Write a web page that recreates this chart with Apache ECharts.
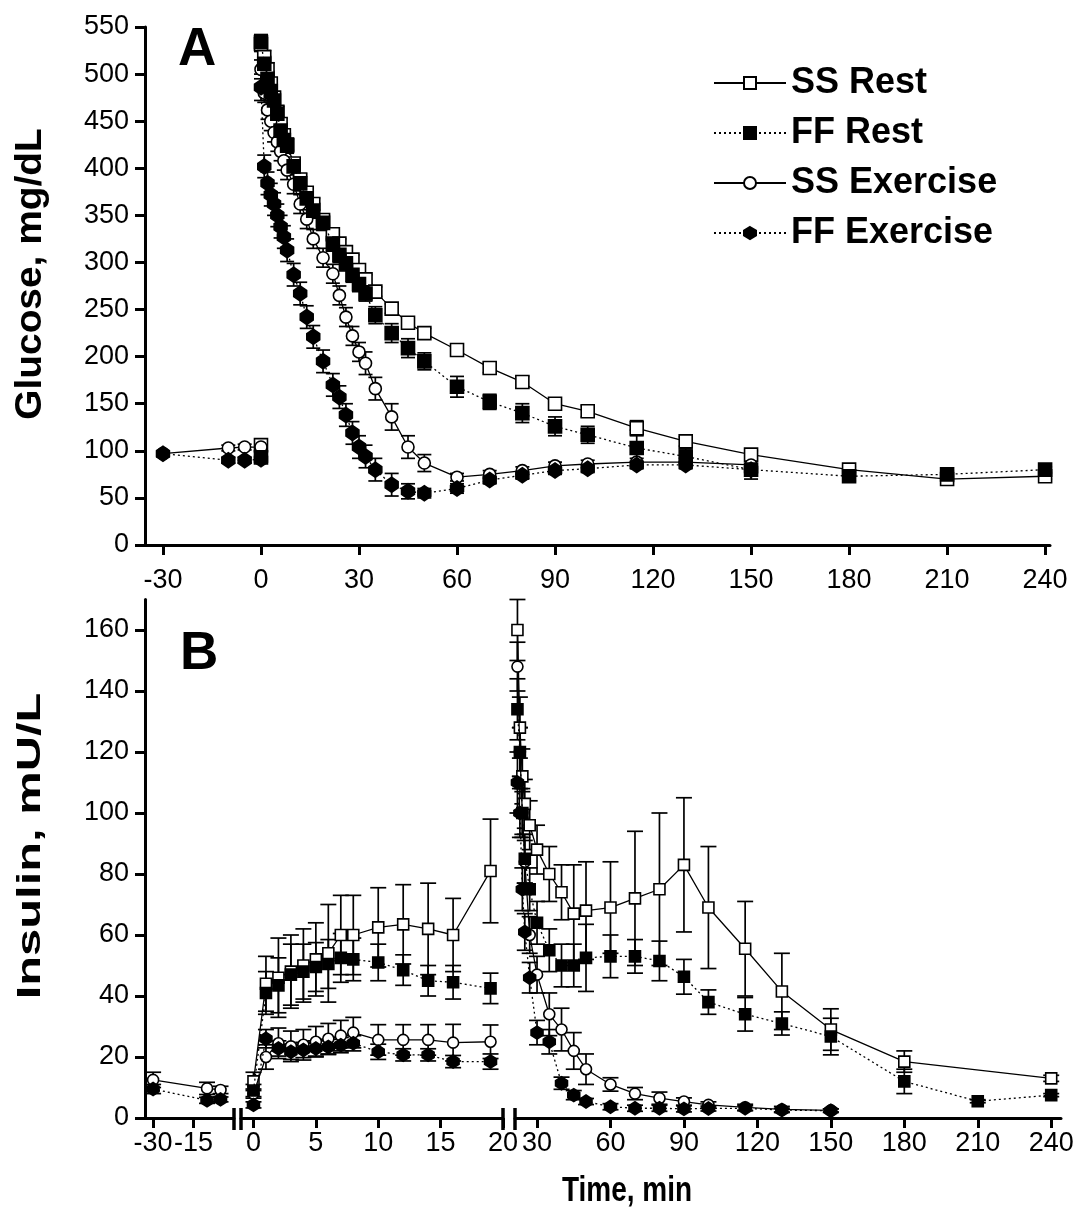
<!DOCTYPE html>
<html>
<head>
<meta charset="utf-8">
<script src="https://cdn.jsdelivr.net/npm/echarts@6/dist/echarts.min.js"></script>
<style>
  html, body { margin: 0; padding: 0; background: #fff; }
  #chart { width: 1078px; height: 1224px; }
</style>
</head>
<body>
<div id="chart"></div>
<script>
// ---------- Panel A: plasma glucose (mg/dL) ----------
const gBaseTimes   = [-30, -10, -5, 0];
const gBaseSSRest  = [null, null, null, 106];
const gBaseFFRest  = [null, null, null, 93];
const gBaseSSEx    = [97, 103, 104, 104];
const gBaseFFEx    = [97, 90, 90, 91];
const gBaseErr     = [3, 3, 3, 4];

const gTimes    = [0, 1, 2, 3, 4, 5, 6, 7, 8, 10, 12, 14, 16, 19, 22, 24, 26, 28, 30, 32, 35, 40, 45, 50, 60, 70, 80, 90, 100, 115, 130, 150, 180, 210, 240];
const gSSRest   = [532, 518, 505, 490, 475, 460, 447, 435, 425, 405, 388, 374, 362, 345, 330, 320, 311, 303, 292, 282, 269, 251, 236, 225, 207, 188, 173, 150, 142, 124, 110, 96, 80, 70, 73];
const gSSRestE  = [8, 7, 7, 6, 6, 6, 6, 6, 6, 6, 6, 6, 6, 6, 5, 5, 5, 5, 5, 5, 5, 5, 5, 5, 5, 5, 6, 5, 6, 8, 5, 4, 3, 3, 3];
const gFFRest   = [534, 511, 495, 482, 472, 458, 440, 430, 424, 402, 384, 368, 355, 342, 320, 308, 299, 287, 277, 267, 244, 225, 209, 195, 168, 152, 140, 126, 117, 103, 94, 80, 73, 75, 80];
const gFFRestE  = [8, 8, 8, 8, 8, 8, 8, 8, 8, 8, 8, 8, 8, 8, 8, 8, 8, 8, 8, 8, 9, 10, 10, 9, 11, 8, 10, 10, 9, 19, 8, 10, 5, 4, 3];
const gSSEx     = [505, 480, 462, 450, 438, 428, 418, 408, 398, 383, 362, 346, 325, 305, 288, 265, 242, 222, 205, 193, 166, 136, 104, 87, 72, 75, 79, 84, 86, 88, 88, 85, null, null, null];
const gSSExE    = [10, 10, 10, 10, 10, 10, 10, 10, 10, 10, 10, 10, 10, 10, 10, 10, 10, 10, 10, 12, 12, 14, 12, 9, 4, 4, 4, 4, 4, 4, 4, 4, null, null, null];
const gFFEx     = [486, 402, 384, 372, 362, 350, 338, 327, 313, 287, 267, 242, 221, 195, 170, 157, 138, 119, 104, 94, 80, 64, 57, 55, 60, 69, 74, 79, 81, 85, 85, 80, null, null, null];
const gFFExE    = [14, 12, 12, 12, 12, 12, 12, 12, 12, 12, 12, 12, 12, 12, 12, 12, 12, 12, 12, 12, 12, 12, 8, 5, 5, 4, 4, 4, 4, 4, 4, 4, null, null, null];

// ---------- Panel B: plasma insulin (mU/L) ----------
const iBaseTimes  = [-30, -10, -5];
const iBaseSSEx   = [12.5, 9.7, 9.2];
const iBaseSSExE  = [2.5, 2, 1.2];
const iBaseFFEx   = [9.5, 5.8, 6.1];
const iBaseFFExE  = [1.5, 1, 0.8];

const iEarlyTimes   = [0, 1, 2, 3, 4, 5, 6, 7, 8, 10, 12, 14, 16, 19];
const iEarlySSRest  = [12, 44, 46, 48, 50, 52, 54, 60, 60, 62.5, 63.5, 62, 60, 81];
const iEarlySSRestE = [3, 9, 13, 12, 12, 12, 16, 13, 13, 13, 13, 15, 12, 17];
const iEarlyFFRest  = [9, 41, 43.5, 47, 48, 49.5, 50.5, 52.5, 52, 51, 48.5, 45, 44.5, 42.5];
const iEarlyFFRestE = [2, 7, 9, 10, 9, 8, 8, 8, 7, 6, 5, 5, 5.5, 5];
const iEarlySSEx    = [8, 20, 24.5, 23.5, 24, 25, 26, 27, 28, 25.6, 25.6, 25.6, 24.7, 25];
const iEarlySSExE   = [1.5, 4, 5, 5, 5, 5, 5, 5, 5, 5, 5, 5, 6, 5.5];
const iEarlyFFEx    = [4.3, 26, 22.8, 21.7, 22.3, 22.8, 23.3, 23.9, 24.5, 21.7, 20.7, 20.7, 18.5, 18.5];
const iEarlyFFExE   = [1, 3, 2.5, 2.5, 2.5, 2.5, 2.5, 2.5, 2.5, 2.5, 2, 2, 2, 2.5];

const iLateTimes   = [22, 23, 24, 25, 27, 30, 35, 40, 45, 50, 60, 70, 80, 90, 100, 115, 130, 150, 180, 210, 240];
const iLateSSRest  = [160, 128, 112, 103, 96, 88, 80, 74, 67, 68, 69, 72, 75, 83, 69, 55.5, 41.5, 29, 18.5, null, 13];
const iLateSSRestE = [10, 10, 9, 8, 8, 8, 9, 9, 16, 16, 15, 22, 25, 22, 20, 15.5, 12.5, 6.8, 3.5, null, 1];
const iLateFFRest  = [134, 120, 100, 85, 75, 64, 55, 50, 50, 52.5, 53, 53, 51.5, 46.3, 38, 34, 31, 26.7, 12, 5.5, 7.5];
const iLateFFRestE = [10, 8, 8, 8, 7, 7, 7, 7, 7, 11, 7, 5.5, 6.5, 5.7, 4, 5.5, 3.8, 6, 4, 0.5, 0.5];
const iLateSSEx    = [148, 120, 100, 84, 60, 47, 34, 29, 22, 16, 11, 8, 6.5, 5.4, 4.3, 3.5, 2.8, 2.5, null, null, null];
const iLateSSExE   = [8, 8, 7, 7, 6, 6, 7, 7, 6, 5, 2.2, 2, 2, 1.2, 1, 1, 1, 0.5, null, null, null];
const iLateFFEx    = [110, 100, 75, 61, 46, 28, 25, 11.4, 7.5, 5.4, 3.7, 3.2, 3.2, 3, 3.1, 3.2, 2.6, 2.4, null, null, null];
const iLateFFExE   = [10, 8, 7, 6, 5, 4, 4, 2, 1.5, 1, 1, 1, 1, 1, 0.8, 0.8, 0.6, 0.6, null, null, null];

// ---------- tick labels ----------
const gTicksX  = [-30, 0, 30, 60, 90, 120, 150, 180, 210, 240];
const iTicksX1 = [-30, -15];
const iTicksX2 = [0, 5, 10, 15, 20];
const iTicksX3 = [30, 60, 90, 120, 150, 180, 210, 240];
const iTicksY  = [0, 20, 40, 60, 80, 100, 120, 140, 160];

const NAMES = ['SS Rest', 'FF Rest', 'SS Exercise', 'FF Exercise'];

// ---------- layout ----------
const FONT = '"Liberation Sans", Arial, Helvetica, sans-serif';
const AX = 145;                     // left edge of both plotting areas
const A_BOX = { top: 27, height: 518, width: 905 };
const B_BOX = { top: 599.5, height: 518.5 };
const B_SEGS = [
  { left: AX, width: 89, min: -33, max: 0, ticks: iTicksX1 },
  { left: 241, width: 262, min: -1, max: 20, ticks: iTicksX2 },
  { left: 515, width: 546, min: 21, max: 244, ticks: iTicksX3 }
];

const STYLES = {
  'SS Rest':     { symbol: 'rect', fill: '#fff', dash: 'solid', sizeA: 13, sizeB: 11 },
  'FF Rest':     { symbol: 'rect', fill: '#000', dash: [2, 3], sizeA: 13, sizeB: 11 },
  'SS Exercise': { symbol: 'circle', fill: '#fff', dash: 'solid', sizeA: 12, sizeB: 11 },
  'FF Exercise': { symbol: 'path://M0,-10L8,-4L8,4L0,10L-8,4L-8,-4Z', fill: '#000', dash: [2, 3], sizeA: [13, 15], sizeB: [12, 13] }
};

function pairs(times, vals, errs) {
  const out = [];
  times.forEach((t, i) => {
    if (vals[i] == null) return;
    out.push([t, vals[i], errs ? (errs[i] || 0) : 0]);
  });
  return out;
}

function makeErrRender(capHalf) {
  return function (params, api) {
    const x = api.value(0), y = api.value(1), e = api.value(2);
    if (!(e > 0)) return null;
    const p1 = api.coord([x, y + e]);
    const p2 = api.coord([x, y - e]);
    const st = { stroke: '#000', lineWidth: 1.7 };
    return {
      type: 'group',
      children: [
        { type: 'line', shape: { x1: p1[0], y1: p1[1], x2: p2[0], y2: p2[1] }, style: st },
        { type: 'line', shape: { x1: p1[0] - capHalf, y1: p1[1], x2: p1[0] + capHalf, y2: p1[1] }, style: st },
        { type: 'line', shape: { x1: p2[0] - capHalf, y1: p2[1], x2: p2[0] + capHalf, y2: p2[1] }, style: st }
      ]
    };
  };
}

const series = [];
function addGroup(name, data, xi, yi, panel, order) {
  const s = STYLES[name];
  series.push({
    type: 'custom', name: name + ' SEM', xAxisIndex: xi, yAxisIndex: yi,
    data: data, renderItem: makeErrRender(panel === 'A' ? 7 : 8), encode: { x: 0, y: 1 },
    silent: true, z: 2, animation: false
  });
  series.push({
    type: 'line', name: name, xAxisIndex: xi, yAxisIndex: yi,
    data: data.map(d => [d[0], d[1]]),
    symbol: s.symbol, symbolSize: panel === 'A' ? s.sizeA : s.sizeB,
    showSymbol: true, showAllSymbol: true,
    lineStyle: { color: '#000', width: 1.3, type: s.dash },
    itemStyle: { color: s.fill, borderColor: '#000', borderWidth: 1.6 },
    emphasis: { disabled: true },
    z: 3 + order, animation: false, silent: true
  });
}

// Panel A
addGroup('SS Rest', pairs(gTimes, gSSRest, gSSRestE), 0, 0, 'A', 0);
addGroup('FF Rest', pairs(gTimes, gFFRest, gFFRestE), 0, 0, 'A', 2);
addGroup('SS Exercise', pairs(gTimes, gSSEx, gSSExE), 0, 0, 'A', 1);
addGroup('FF Exercise', pairs(gTimes, gFFEx, gFFExE), 0, 0, 'A', 3);
addGroup('SS Rest', pairs(gBaseTimes, gBaseSSRest, gBaseErr), 0, 0, 'A', 0);
addGroup('FF Rest', pairs(gBaseTimes, gBaseFFRest, gBaseErr), 0, 0, 'A', 2);
addGroup('SS Exercise', pairs(gBaseTimes, gBaseSSEx, gBaseErr), 0, 0, 'A', 1);
addGroup('FF Exercise', pairs(gBaseTimes, gBaseFFEx, gBaseErr), 0, 0, 'A', 3);

// Panel B, pre-test segment
addGroup('SS Exercise', pairs(iBaseTimes, iBaseSSEx, iBaseSSExE), 1, 1, 'B', 1);
addGroup('FF Exercise', pairs(iBaseTimes, iBaseFFEx, iBaseFFExE), 1, 1, 'B', 3);
// Panel B, 0-20 min
addGroup('SS Rest', pairs(iEarlyTimes, iEarlySSRest, iEarlySSRestE), 2, 2, 'B', 0);
addGroup('FF Rest', pairs(iEarlyTimes, iEarlyFFRest, iEarlyFFRestE), 2, 2, 'B', 2);
addGroup('SS Exercise', pairs(iEarlyTimes, iEarlySSEx, iEarlySSExE), 2, 2, 'B', 1);
addGroup('FF Exercise', pairs(iEarlyTimes, iEarlyFFEx, iEarlyFFExE), 2, 2, 'B', 3);
// Panel B, 20-240 min
addGroup('SS Rest', pairs(iLateTimes, iLateSSRest, iLateSSRestE), 3, 3, 'B', 0);
addGroup('FF Rest', pairs(iLateTimes, iLateFFRest, iLateFFRestE), 3, 3, 'B', 2);
addGroup('SS Exercise', pairs(iLateTimes, iLateSSEx, iLateSSExE), 3, 3, 'B', 1);
addGroup('FF Exercise', pairs(iLateTimes, iLateFFEx, iLateFFExE), 3, 3, 'B', 3);

const axisLine = { show: true, onZero: false, lineStyle: { color: '#000', width: 3 } };
const tickStyle = { color: '#000', width: 3 };
const labelStyle = { color: '#000', fontSize: 27, fontFamily: FONT };

function xAxisFor(gridIndex, min, max, ticks, margin) {
  return {
    type: 'value', gridIndex, min, max,
    axisLine, splitLine: { show: false },
    axisTick: { show: true, length: 10, inside: false, lineStyle: tickStyle, customValues: ticks },
    axisLabel: Object.assign({ margin: margin, customValues: ticks, showMinLabel: true, showMaxLabel: true }, labelStyle)
  };
}

const grids = [
  { left: AX, top: A_BOX.top, width: A_BOX.width, height: A_BOX.height, containLabel: false }
].concat(B_SEGS.map(s => ({ left: s.left, top: B_BOX.top, width: s.width, height: B_BOX.height, containLabel: false })));

const xAxes = [xAxisFor(0, -35.5, 241.5, gTicksX, 22)]
  .concat(B_SEGS.map((s, i) => xAxisFor(i + 1, s.min, s.max, s.ticks, 12)));

const yAxes = [
  {
    type: 'value', gridIndex: 0, min: 0, max: 550, interval: 50,
    axisLine, splitLine: { show: false },
    axisTick: { show: true, length: 10, lineStyle: tickStyle },
    axisLabel: Object.assign({ margin: 16 }, labelStyle)
  },
  {
    type: 'value', gridIndex: 1, min: 0, max: 170,
    axisLine, splitLine: { show: false },
    axisTick: { show: true, length: 10, lineStyle: tickStyle, customValues: iTicksY },
    axisLabel: Object.assign({ margin: 16, customValues: iTicksY }, labelStyle)
  },
  { type: 'value', gridIndex: 2, min: 0, max: 170, show: false },
  { type: 'value', gridIndex: 3, min: 0, max: 170, show: false }
];

// short bars marking the breaks in panel B's time axis
const axisY = B_BOX.top + B_BOX.height;
const breakXs = [B_SEGS[0].left + B_SEGS[0].width, B_SEGS[1].left, B_SEGS[1].left + B_SEGS[1].width, B_SEGS[2].left];
const breakMarks = breakXs.map(x => ({
  type: 'line', silent: true,
  shape: { x1: x, y1: axisY - 10, x2: x, y2: axisY + 12 },
  style: { stroke: '#000', lineWidth: 3.5 }
}));

// axis titles (drawn as text elements so their proportions can be set)
function titleText(text, x, y, size, rot, sx, sy) {
  return {
    type: 'text', silent: true, x: x, y: y, rotation: rot, scaleX: sx, scaleY: sy,
    style: {
      text: text, fill: '#000', font: 'bold ' + size + 'px ' + FONT,
      align: 'center', verticalAlign: 'middle', textAlign: 'center', textVerticalAlign: 'middle'
    }
  };
}
const titles = [
  titleText('Glucose, mg/dL', 31, 274, 37, Math.PI / 2, 1.05, 1),
  titleText('Insulin, mU/L', 31, 846, 33, Math.PI / 2, 1.48, 1),
  titleText('Time, min', 627, 1192, 28, 0, 1, 1.22)
];

const chart = echarts.init(document.getElementById('chart'), null, { renderer: 'canvas' });
chart.setOption({
  animation: false,
  backgroundColor: '#fff',
  title: [
    { text: 'A', left: 173, top: 19, textStyle: { fontSize: 53, fontWeight: 'bold', fontFamily: FONT, color: '#000' } },
    { text: 'B', left: 175, top: 623, textStyle: { fontSize: 53, fontWeight: 'bold', fontFamily: FONT, color: '#000' } }
  ],
  legend: {
    data: NAMES, orient: 'vertical', left: 708, top: 60,
    itemWidth: 72, itemHeight: 15, itemGap: 14, selectedMode: false,
    textStyle: { fontSize: 36, fontWeight: 'bold', fontFamily: FONT, color: '#000', lineHeight: 36 }
  },
  grid: grids,
  xAxis: xAxes,
  yAxis: yAxes,
  series: series,
  graphic: breakMarks.concat(titles)
});
</script>
</body>
</html>
